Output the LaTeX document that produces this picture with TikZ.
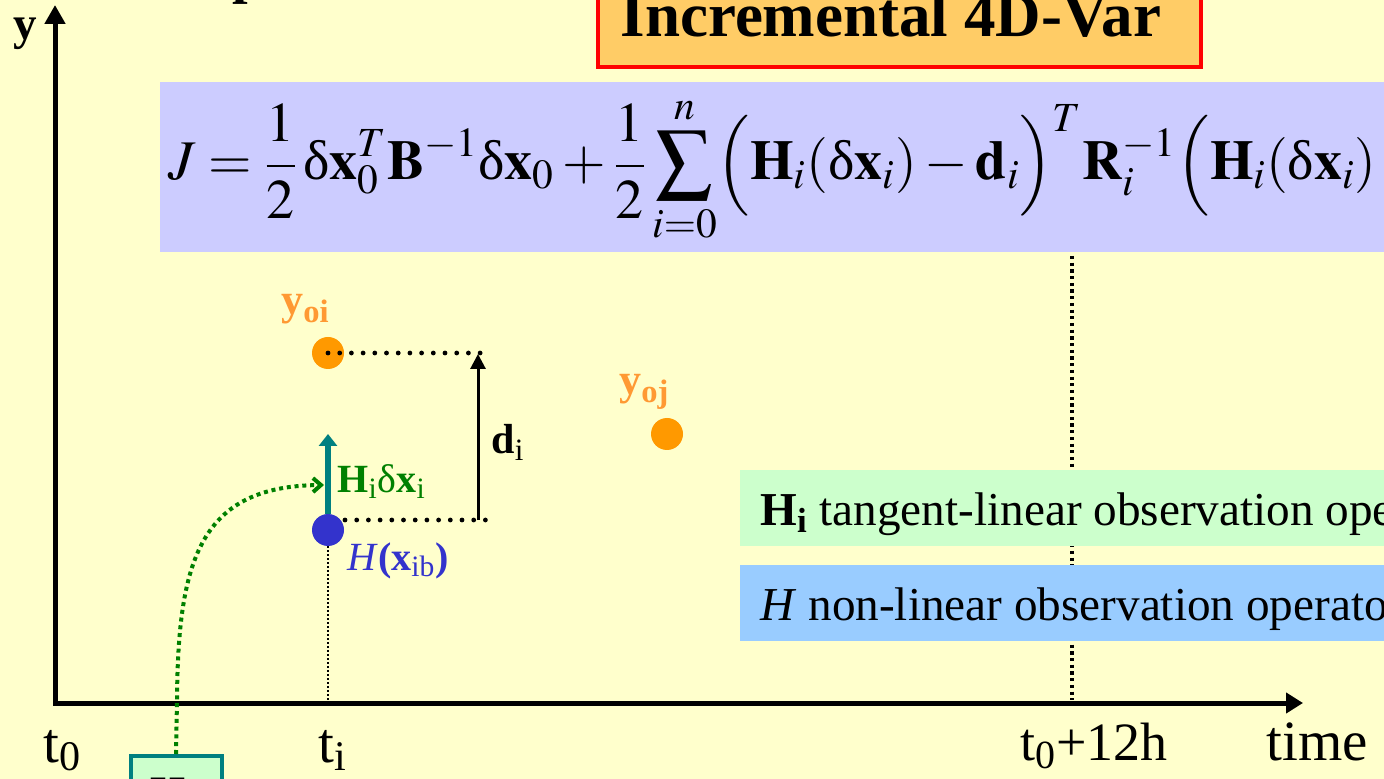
\documentclass[tikz,border=0pt]{standalone}
\usepackage{mathptmx}
\usepackage{fontspec}
\setmainfont{Liberation Serif}
\usetikzlibrary{arrows.meta}
\definecolor{bgyellow}{HTML}{FFFFCC}
\definecolor{lavbox}{HTML}{CCCCFF}
\definecolor{greenbox}{HTML}{CCFFCC}
\definecolor{bluebox}{HTML}{99CCFF}
\definecolor{titlefill}{HTML}{FFCC66}
\definecolor{obsorange}{HTML}{FF9900}
\definecolor{obslabel}{HTML}{FF9933}
\definecolor{bgblue}{HTML}{3333CC}
\definecolor{tealc}{HTML}{008080}
\definecolor{dgreen}{HTML}{008000}
\newcommand{\upd}{\textrm{δ}}
\tikzset{
  axisline/.style={line width=2.5pt, line join=miter},
  bigdot/.style={line width=2.4pt, line cap=round, dash pattern=on 0pt off 5.85pt},
  tinydot/.style={line width=1pt, dash pattern=on 1pt off 1pt},
  longdot/.style={line width=1.6pt, dash pattern=on 1.6pt off 1.75pt},
  greendot/.style={dgreen, line width=2pt, dash pattern=on 2pt off 1.9pt},
  pt/.style={circle, inner sep=0pt, minimum size=16pt},
  axlbl/.style={anchor=base west, inner sep=0pt, font=\fontsize{28.5}{34}\selectfont},
  boxtxt/.style={anchor=base west, inner sep=0pt, font=\fontsize{23.6}{28}\selectfont},
}
\begin{document}
\begin{tikzpicture}[x=0.5pt,y=-0.5pt]
\fill[bgyellow] (0,0) rectangle (1384,779);
\useasboundingbox (0,0) rectangle (1384,779);

% partial letter at the top
\node[anchor=base west, inner sep=0pt, font=\bfseries\fontsize{28}{32}\selectfont] (ptop) at (232,-7) {p};

% title
\draw[red, line width=2pt, fill=titlefill] (598,-20) rectangle (1201,67);
\node[anchor=base, inner sep=0pt, font=\bfseries\fontsize{31.5}{36}\selectfont] (title) at (891,37) {Incremental 4D-Var};

% equation box
\fill[lavbox] (160,82) rectangle (1400,252);
\node[anchor=west, inner sep=0pt, font=\fontsize{28}{34}\selectfont] (eq) at (168,170)
 {$\displaystyle J=\frac{1}{2}\,\upd\mathbf{x}_0^T\mathbf{B}^{-1}\upd\mathbf{x}_0+\frac{1}{2}\sum_{i=0}^{n}\Bigl(\mathbf{H}_i(\upd\mathbf{x}_i)-\mathbf{d}_i\Bigr)^T\mathbf{R}_i^{-1}\Bigl(\mathbf{H}_i(\upd\mathbf{x}_i)$};

% vertical dotted line at t0+12h
\coordinate (vtop) at (1072,256);
\coordinate (vbot) at (1072,700);
\draw[longdot] (vtop) -- (vbot);

% legend boxes
\fill[greenbox] (740,470) rectangle (1400,546);
\fill[bluebox] (740,565) rectangle (1400,641);
\node[boxtxt] (leg1) at (760,525) {\textbf{H}\textsubscript{\textbf{i}} tangent-linear observation operator};
\node[boxtxt] (leg2) at (760,620) {\textit{H} non-linear observation operator};

% axes
\coordinate (ytop) at (55,5);
\coordinate (O) at (55,703);
\coordinate (xend) at (1303,703);
\draw[axisline, {Triangle[length=9.5pt,width=10pt]}-{Triangle[length=8.5pt,width=10pt]}] (ytop) -- (O) -- (xend);
\node[anchor=base west, inner sep=0pt, font=\bfseries\fontsize{23.5}{28}\selectfont] (ylbl) at (13,40) {y};

% axis labels
\node[axlbl] (t0) at (43,762) {t\textsubscript{0}};
\node[axlbl] (ti) at (318,762) {t\textsubscript{i}};
\node[axlbl, font=\fontsize{27}{32}\selectfont] (t12) at (1020,760) {t\textsubscript{0}+12h};
\node[axlbl] (time) at (1266,760) {time};

% observation points
\node[pt, fill=obsorange] (yoi) at (328,353) {};
\node[pt, fill=obsorange] (yoj) at (667,434) {};
\node[pt, fill=bgblue] (Hx) at (328,530) {};
\node[anchor=base west, inner sep=0pt, text=obslabel, font=\bfseries\fontsize{22}{26}\selectfont] (yoilbl) at (281,315) {y\textsubscript{oi}};
\node[anchor=base west, inner sep=0pt, text=obslabel, font=\bfseries\fontsize{22}{26}\selectfont] (yojlbl) at (619,395) {y\textsubscript{oj}};

% dotted guides
\coordinate (upend) at (485,353);
\coordinate (lowstart) at (345,520);
\coordinate (lowend) at (492,520);
\draw[bigdot] (yoi.center) -- (upend);
\draw[bigdot] (lowstart) -- (lowend);
\coordinate (tiaxis) at (328,700);
\draw[tinydot] (Hx.south) -- (tiaxis);

% innovation arrow
\coordinate (dlow) at (478,520);
\coordinate (dhigh) at (478,354);
\draw[line width=1.5pt, -{Triangle[length=7.5pt,width=7.5pt]}] (dlow) -- (dhigh);
\node[anchor=base west, inner sep=0pt, font=\fontsize{21}{25}\selectfont] (dlbl) at (491,454) {\textbf{d}\textsubscript{i}};

% increment arrow
\coordinate (inctip) at (328,434);
\draw[tealc, line width=3pt, -{Triangle[length=6pt,width=9pt]}] (Hx.north) -- (inctip);
\node[anchor=base west, inner sep=0pt, text=dgreen, font=\fontsize{20}{24}\selectfont] (hdx) at (337,493) {\textbf{H}\textsubscript{i}δ\textbf{x}\textsubscript{i}};
\node[anchor=base west, inner sep=0pt, text=bgblue, font=\fontsize{20}{24}\selectfont] (hxlbl) at (347,570) {\textit{H}\textbf{(x}\textsubscript{ib}\textbf{)}};

% bottom box and green dotted curve
\node[draw=tealc, line width=2pt, fill=greenbox, anchor=north, minimum width=45.5pt, minimum height=60pt, inner sep=0pt] (hbox) at (176,754) {};
\node[anchor=base west, inner sep=0pt, font=\bfseries\fontsize{22.5}{26}\selectfont] (hboxtxt) at (150,807) {H};
\coordinate (gbend) at (177,700);
\coordinate (gtip) at (324,485);
\draw[greendot, -{Straight Barb[length=4pt,width=7pt]}] (hbox.north) -- (gbend) .. controls (178,560) and (200,486) .. (gtip);
\end{tikzpicture}
\end{document}
